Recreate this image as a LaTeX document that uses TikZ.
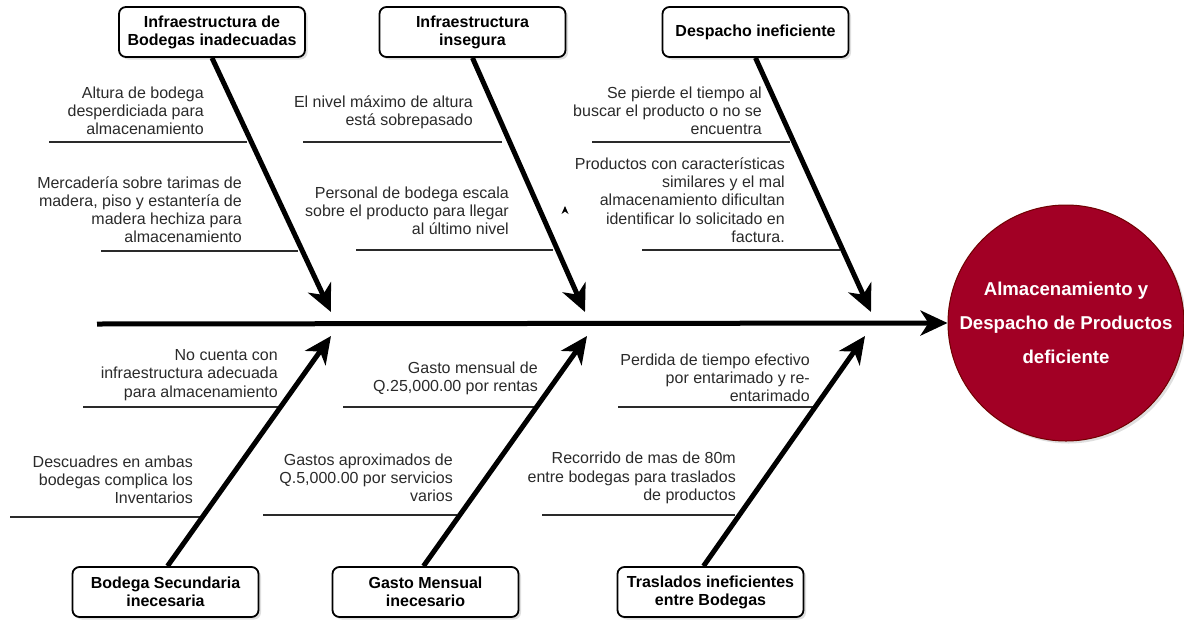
\documentclass[tikz,border=0pt]{standalone}
\usepackage{fontspec}
\setmainfont{Liberation Sans}
\usetikzlibrary{arrows.meta,shadows}
\definecolor{wine}{HTML}{A20025}
\definecolor{winedark}{HTML}{6F0000}
\definecolor{txt}{HTML}{2A2A2A}
\begin{document}
\begin{tikzpicture}[x=1pt,y=-1pt,
  catbox/.style={draw=black, line width=1.8pt, rounded corners=7pt, fill=white,
    minimum width=186pt, minimum height=50pt, inner sep=0pt, align=center,
    font=\bfseries\fontsize{16}{18}\selectfont,
    drop shadow={shadow xshift=2.5pt, shadow yshift=-2.5pt, opacity=0.25}},
  causetxt/.style={anchor=east, align=right, inner sep=0pt, text=txt,
    font=\fontsize{16}{18.2}\selectfont},
  causeline/.style={line width=1.6pt, draw=txt},
  bigarrow/.style={line width=5pt, -{Stealth[length=27pt,width=25pt,inset=8pt]}},
  effect/.style={circle, fill=wine, draw=winedark, line width=1pt, minimum size=236pt,
    inner sep=0pt, align=center, text=white,
    font=\bfseries\fontsize{18.6}{34}\selectfont,
    drop shadow={shadow xshift=2.5pt, shadow yshift=-2.5pt, opacity=0.25}}
]
\useasboundingbox (0,0) rectangle (1184,619);

% effect
\node[effect] (eff) at (1066,323) {Almacenamiento y\\Despacho de Productos\\deficiente};

% category boxes
\node[catbox] (b1) at (212,32) {Infraestructura de\\Bodegas inadecuadas};
\node[catbox] (b2) at (472.5,32) {Infraestructura\\insegura};
\node[catbox] (b3) at (755.5,32) {Despacho ineficiente};
\node[catbox] (b4) at (165.5,592) {Bodega Secundaria\\inecesaria};
\node[catbox] (b5) at (425.5,592) {Gasto Mensual\\inecesario};
\node[catbox] (b6) at (710.5,592) {Traslados ineficientes\\entre Bodegas};

% arrow tip coordinates on the spine
\coordinate (s0) at (97,324);
\coordinate (t1) at (331,312);
\coordinate (t2) at (585,312);
\coordinate (t3) at (871,312);
\coordinate (u1) at (331,336);
\coordinate (u2) at (587,336);
\coordinate (u3) at (865,336);

% cause lines
\draw[causeline] (49,142) -- (247,142);
\draw[causeline] (101,251) -- (298,251);
\draw[causeline] (303,142) -- (502,142);
\draw[causeline] (356,250) -- (553,250);
\draw[causeline] (592,142) -- (790,142);
\draw[causeline] (642,250) -- (840,250);
\draw[causeline] (83,407) -- (278,407);
\draw[causeline] (10,517) -- (200,517);
\draw[causeline] (343,407) -- (537,407);
\draw[causeline] (263,515) -- (457,515);
\draw[causeline] (618,407) -- (815,407);
\draw[causeline] (542,515) -- (735,515);

% spine and bones
\draw[bigarrow] (s0) -- (eff.west);
\draw[bigarrow] (b1.south) -- (t1);
\draw[bigarrow] (b2.south) -- (t2);
\draw[bigarrow] (b3.south) -- (t3);
\draw[bigarrow] ([xshift=2pt]b4.north) -- (u1);
\draw[bigarrow] ([xshift=-2pt]b5.north) -- (u2);
\draw[bigarrow] ([xshift=-7pt]b6.north) -- (u3);

% stray small arrowhead
\fill (565,206) -- (568.5,214) -- (565,211.5) -- (561.5,214) -- cycle;

% cause texts
\node[causetxt] (c1) at (204,110.5) {Altura de bodega\\desperdiciada para\\almacenamiento};
\node[causetxt] (c2) at (242,209.5) {Mercadería sobre tarimas de\\madera, piso y estantería de\\madera hechiza para\\almacenamiento};
\node[causetxt] (c3) at (473,112) {El nivel máximo de altura\\está sobrepasado};
\node[causetxt] (c4) at (509,211) {Personal de bodega escala\\sobre el producto para llegar\\al último nivel};
\node[causetxt] (c5) at (762,111) {Se pierde el tiempo al\\buscar el producto o no se\\encuentra};
\node[causetxt] (c6) at (785,200) {Productos con características\\similares y el mal\\almacenamiento dificultan\\identificar lo solicitado en\\factura.};
\node[causetxt] (c7) at (278,375) {No cuenta con\\infraestructura adecuada\\para almacenamiento};
\node[causetxt] (c8) at (193,480) {Descuadres en ambas\\bodegas complica los\\Inventarios};
\node[causetxt] (c9) at (538,378) {Gasto mensual de\\Q.25,000.00 por rentas};
\node[causetxt] (c10) at (453,478) {Gastos aproximados de\\Q.5,000.00 por servicios\\varios};
\node[causetxt] (c11) at (810,378) {Perdida de tiempo efectivo\\por entarimado y re-\\entarimado};
\node[causetxt] (c12) at (736,478) {Recorrido de mas de 80m\\entre bodegas para traslados\\de productos};
\end{tikzpicture}
\end{document}
